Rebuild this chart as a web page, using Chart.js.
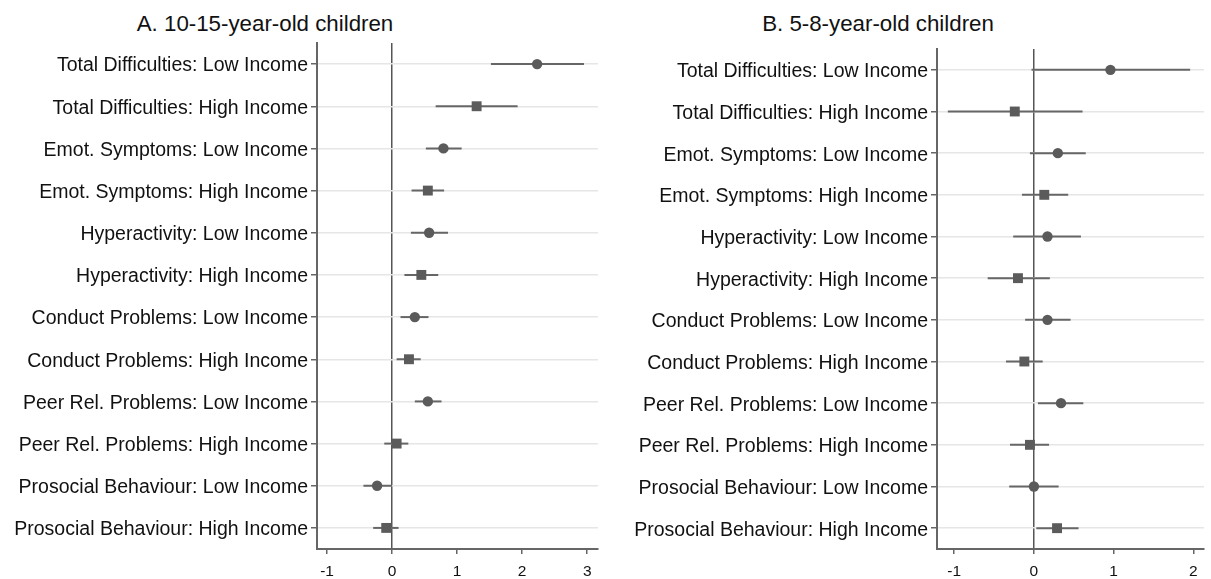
<!DOCTYPE html>
<html>
<head>
<meta charset="utf-8">
<script src="https://cdn.jsdelivr.net/npm/chart.js@4.4.1/dist/chart.umd.min.js"></script>
<style>
    html, body { margin: 0; padding: 0; background: #fff; }
    body { width: 1211px; height: 579px; position: relative; overflow: hidden; font-family: "Liberation Sans", Arial, sans-serif; }
    .panel { position: absolute; top: 0; height: 579px; }
    .title { position: absolute; top: 11px; font-size: 22.3px; color: #111; white-space: nowrap; transform: translateX(-50%); }
</style>
</head>
<body>
<div class="title" style="left:265px">A. 10-15-year-old children</div>
<div class="title" style="left:878px">B. 5-8-year-old children</div>
<div class="panel" style="left:0;width:605px"><canvas id="chartA"></canvas></div>
<div class="panel" style="left:605px;width:606px"><canvas id="chartB"></canvas></div>
<script>
    "use strict";

    // categories (top to bottom)
    const outcomes = [
        "Total Difficulties: Low Income",
        "Total Difficulties: High Income",
        "Emot. Symptoms: Low Income",
        "Emot. Symptoms: High Income",
        "Hyperactivity: Low Income",
        "Hyperactivity: High Income",
        "Conduct Problems: Low Income",
        "Conduct Problems: High Income",
        "Peer Rel. Problems: Low Income",
        "Peer Rel. Problems: High Income",
        "Prosocial Behaviour: Low Income",
        "Prosocial Behaviour: High Income",
    ];

    // A. 10-15-year-old children
    const estA = [2.23, 1.30, 0.79, 0.55, 0.57, 0.45, 0.35, 0.26, 0.55, 0.07, -0.23, -0.09];
    const lowA = [1.52, 0.67, 0.52, 0.30, 0.29, 0.19, 0.13, 0.07, 0.35, -0.12, -0.44, -0.29];
    const highA = [2.95, 1.93, 1.07, 0.80, 0.86, 0.71, 0.56, 0.44, 0.76, 0.25, 0.00, 0.10];

    // B. 5-8-year-old children
    const estB = [0.96, -0.24, 0.30, 0.13, 0.17, -0.20, 0.17, -0.12, 0.34, -0.05, 0.00, 0.29];
    const lowB = [-0.03, -1.08, -0.05, -0.15, -0.26, -0.58, -0.11, -0.35, 0.05, -0.30, -0.31, 0.03];
    const highB = [1.96, 0.61, 0.65, 0.43, 0.59, 0.20, 0.46, 0.11, 0.62, 0.19, 0.31, 0.56];

    const ticksA = [-1, 0, 1, 2, 3];
    const ticksB = [-1, 0, 1, 2];

    const markColor = "#5b5b5b";
    const axisColor = "#666666";

    // ðŸ§© crea un grÃ¡fico de coeficientes
    function createCoefPlot(canvasId, est, low, high, tickVals, opts) {
        const datasets = [];

        // intervalos de confianza
        outcomes.forEach((label, i) => {
            datasets.push({
                type: "line",
                data: [{ x: low[i], y: label }, { x: high[i], y: label }],
                borderColor: axisColor,
                borderWidth: 2,
                pointRadius: 0,
                order: 2,
            });
        });

        // puntos: cÃ­rculo para ingreso bajo, cuadrado para ingreso alto
        datasets.push({
            type: "scatter",
            data: outcomes.map((label, i) => ({ x: est[i], y: label })),
            pointStyle: outcomes.map(l => (l.includes("Low") ? "circle" : "rect")),
            pointRadius: outcomes.map(l => (l.includes("Low") ? 5.2 : 7)),
            backgroundColor: markColor,
            borderColor: markColor,
            borderWidth: 0,
            order: 1,
        });

        return new Chart(document.getElementById(canvasId), {
            data: { datasets },
            options: {
                responsive: true,
                maintainAspectRatio: false,
                animation: false,
                layout: { padding: { top: opts.top, right: opts.right, bottom: 0, left: 0 } },
                plugins: { legend: { display: false }, tooltip: { enabled: false } },
                scales: {
                    x: {
                        type: "linear",
                        min: opts.xmin,
                        max: opts.xmax,
                        afterBuildTicks: s => { s.ticks = tickVals.map(v => ({ value: v })); },
                        afterFit: s => { s.height = 30; },
                        ticks: { color: "#111", font: { family: "Liberation Sans", size: 15.5 }, padding: 8, maxRotation: 0 },
                        grid: {
                            color: c => (c.tick && c.tick.value === 0 ? "#555555" : "rgba(0,0,0,0)"),
                            lineWidth: 1.5,
                            tickColor: axisColor,
                            tickLength: 5,
                            drawTicks: true,
                        },
                        border: { color: axisColor, width: 2 },
                    },
                    y: {
                        type: "category",
                        labels: outcomes,
                        offset: true,
                        afterFit: s => { s.width = opts.yWidth; },
                        ticks: { color: "#111", font: { family: "Liberation Sans", size: 19.5 }, padding: 3, labelOffset: 2, autoSkip: false },
                        grid: {
                            offset: false,
                            color: "#e6e6e6",
                            lineWidth: 1.5,
                            tickColor: axisColor,
                            tickLength: 6,
                        },
                        border: { color: axisColor, width: 2 },
                    },
                },
            },
        });
    }

    createCoefPlot("chartA", estA, lowA, highA, ticksA, {
        xmin: -1.154, xmax: 3.166, top: 43, right: 7, yWidth: 317,
    });
    createCoefPlot("chartB", estB, lowB, highB, ticksB, {
        xmin: -1.216, xmax: 2.134, top: 49, right: 4, yWidth: 332,
    });
</script>
</body>
</html>
